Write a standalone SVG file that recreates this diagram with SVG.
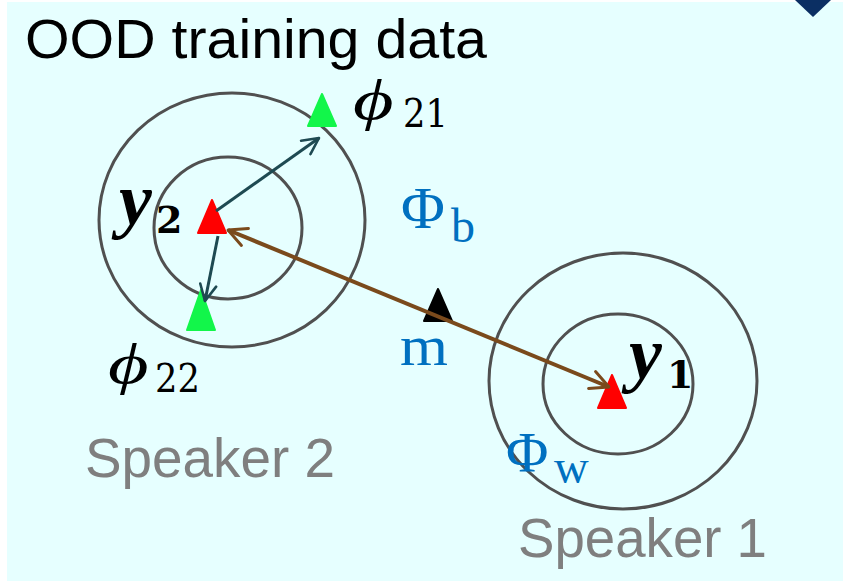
<svg xmlns="http://www.w3.org/2000/svg" width="843" height="581" viewBox="0 0 843 581">
<defs>
<style>
.ring{fill:none;stroke:#505050;stroke-width:3}
.sans{font-family:"Liberation Sans",Arial,sans-serif}
.grey{fill:#7f7f7f;font-size:56px}
.math{font-family:"Liberation Serif","DejaVu Serif",serif}
.blue{fill:#0070c0}
.phi{font-family:"Liberation Serif","DejaVu Serif",serif;font-style:italic;font-size:58px;fill:#000}
.sub{font-family:"DejaVu Serif","Liberation Serif",serif;font-size:39px;fill:#000}
.yv{font-family:"Liberation Serif","DejaVu Serif",serif;font-style:italic;font-weight:bold;font-size:74px;fill:#000}
.ysub{font-family:"DejaVu Serif","Liberation Serif",serif;font-weight:bold;font-size:38px;fill:#000}
.red{fill:#ff0000;stroke:#ff0000;stroke-width:2;stroke-linejoin:round}
.green{fill:#12f64a;stroke:#12f64a;stroke-width:2;stroke-linejoin:round}
.blk{fill:#000;stroke:#000;stroke-width:2;stroke-linejoin:round}
.teal{stroke:#1e4a52;stroke-width:3;fill:none}
.brown{stroke:#7a4a1c;stroke-width:4;fill:none}
</style>
<marker id="ahT" viewBox="0 0 12 12" refX="11" refY="6" markerWidth="6.5" markerHeight="6.5" orient="auto" markerUnits="strokeWidth">
<path d="M1,1 L11,6 L1,11" fill="none" stroke="#1e4a52" stroke-width="1.6" stroke-linecap="round" stroke-linejoin="round"/>
</marker>
<marker id="ahB" viewBox="0 0 12 12" refX="11" refY="6" markerWidth="5.5" markerHeight="5.5" orient="auto-start-reverse" markerUnits="strokeWidth">
<path d="M1,1 L11,6 L1,11" fill="none" stroke="#7a4a1c" stroke-width="1.6" stroke-linecap="round" stroke-linejoin="round"/>
</marker>
</defs>
<rect x="0" y="0" width="843" height="581" fill="#ffffff"/>
<rect x="7" y="2" width="836" height="579" fill="#e6ffff"/>
<polygon points="795,0 831,0 813,17" fill="#0b2f63"/>
<text class="sans" x="25" y="58" font-size="56" textLength="462" lengthAdjust="spacingAndGlyphs" fill="#000">OOD training data</text>

<g id="speaker2">
<ellipse class="ring" cx="232" cy="220" rx="133" ry="127"/>
<ellipse class="ring" cx="228" cy="228" rx="74" ry="71"/>
<text class="sans grey" x="85" y="477" textLength="250" lengthAdjust="spacingAndGlyphs">Speaker 2</text>
</g>
<g id="speaker1">
<ellipse class="ring" cx="623" cy="381" rx="134" ry="128"/>
<ellipse class="ring" cx="618" cy="384" rx="75" ry="70"/>
<text class="sans grey" x="518" y="557" textLength="249" lengthAdjust="spacingAndGlyphs">Speaker 1</text>
</g>

<g id="y2">
<polygon class="red" points="212,200 198,233 226,233"/>
<text class="yv" x="119" y="224">y</text>
<text class="ysub" x="156" y="233">2</text>
</g>
<g id="phi21">
<polygon class="green" points="322,94 308,126 336,126"/>
<text class="phi" transform="translate(353,119) scale(1.35,1)">ϕ</text>
<text class="sub" x="403" y="127" textLength="45" lengthAdjust="spacingAndGlyphs">21</text>
</g>
<g id="phi22">
<polygon class="green" points="201,290 187,330 215,330"/>
<text class="phi" transform="translate(108,383) scale(1.35,1)">ϕ</text>
<text class="sub" x="155" y="392" textLength="45" lengthAdjust="spacingAndGlyphs">22</text>
</g>
<g id="m">
<polygon class="blk" points="438,289 424,321 452,321"/>
<text class="math blue" x="400" y="365" font-size="58" textLength="48" lengthAdjust="spacingAndGlyphs">m</text>
</g>
<g id="y1">
<polygon class="red" points="612,375 598,408 626,408"/>
<text class="yv" x="629" y="378">y</text>
<text class="ysub" x="667" y="388">1</text>
</g>
<g id="phib">
<text class="math blue" x="401" y="228" font-size="60">Φ</text>
<text class="math blue" x="451" y="242" font-size="48">b</text>
</g>
<g id="phiw">
<text class="math blue" x="506" y="472" font-size="58">Φ</text>
<text class="math blue" x="554" y="483" font-size="48">w</text>
</g>

<g id="connectors">
<line class="teal" x1="216" y1="211" x2="319" y2="138" marker-end="url(#ahT)"/>
<line class="teal" x1="218" y1="236" x2="205" y2="301" marker-end="url(#ahT)"/>
<line class="brown" x1="228" y1="230" x2="609" y2="387" marker-start="url(#ahB)" marker-end="url(#ahB)"/>
</g>
</svg>
